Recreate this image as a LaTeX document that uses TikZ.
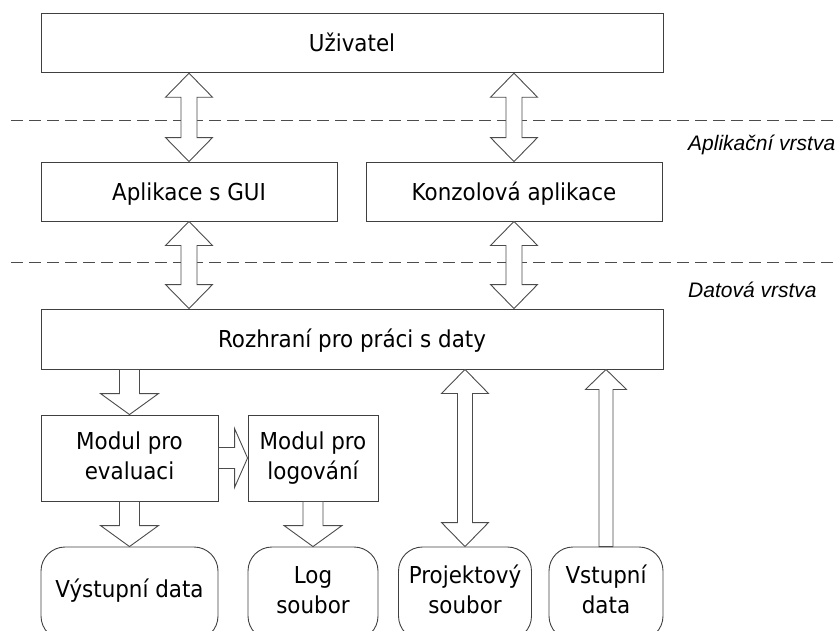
\documentclass[tikz,border=0pt]{standalone}
\usepackage{fontspec}
\setmainfont{DejaVu Sans}[FakeStretch=0.92]
\newfontfamily\layerfont{Liberation Sans}
\usetikzlibrary{calc}

% block arrows: #1 shaft half-width, #2 head half-width, #3 head length
\tikzset{
  blockdouble/.style n args={3}{to path={
    -- ($(\tikztostart)!#3!(\tikztotarget)!#2!90:(\tikztotarget)$)
    -- ($(\tikztostart)!#3!(\tikztotarget)!#1!90:(\tikztotarget)$)
    -- ($(\tikztotarget)!#3!(\tikztostart)!#1!-90:(\tikztostart)$)
    -- ($(\tikztotarget)!#3!(\tikztostart)!#2!-90:(\tikztostart)$)
    -- (\tikztotarget)
    -- ($(\tikztotarget)!#3!(\tikztostart)!#2!90:(\tikztostart)$)
    -- ($(\tikztotarget)!#3!(\tikztostart)!#1!90:(\tikztostart)$)
    -- ($(\tikztostart)!#3!(\tikztotarget)!#1!-90:(\tikztotarget)$)
    -- ($(\tikztostart)!#3!(\tikztotarget)!#2!-90:(\tikztotarget)$)
    -- cycle}},
  blocksingle/.style n args={3}{to path={
    -- ($(\tikztostart)!#1!90:(\tikztotarget)$)
    -- ($(\tikztotarget)!#3!(\tikztostart)!#1!-90:(\tikztostart)$)
    -- ($(\tikztotarget)!#3!(\tikztostart)!#2!-90:(\tikztostart)$)
    -- (\tikztotarget)
    -- ($(\tikztotarget)!#3!(\tikztostart)!#2!90:(\tikztostart)$)
    -- ($(\tikztotarget)!#3!(\tikztostart)!#1!90:(\tikztostart)$)
    -- ($(\tikztostart)!#1!-90:(\tikztotarget)$)
    -- cycle}},
  arrowline/.style={draw=black!70, fill=white, line width=0.9pt, line join=miter},
  layerline/.style={draw=black!70, line width=0.9pt, dash pattern=on 12pt off 6pt},
  box/.style={draw=black!75, line width=0.9pt, inner sep=0pt, align=center,
    font=\fontsize{23.3}{30}\selectfont, text height=17pt, text depth=0pt},
  twoline/.style={text height=47pt, text depth=5pt},
  store/.style={box, rounded corners=24pt},
  layerlabel/.style={font=\layerfont\itshape\fontsize{21}{25}\selectfont, anchor=base west, inner sep=0pt}
}

\begin{document}
\begin{tikzpicture}[x=1pt, y=-1pt]
  \useasboundingbox (0,0) rectangle (838,630);
  \clip (0,0) rectangle (838,630);

  % layer boundaries
  \coordinate (d1a) at (11,120);
  \coordinate (d1b) at (838,120);
  \coordinate (d2a) at (11,262);
  \coordinate (d2b) at (838,262);
  \draw[layerline] (d1a) -- (d1b);
  \draw[layerline] (d2a) -- (d2b);
  \node[layerlabel] (lapp) at (688,150) {Aplikační vrstva};
  \node[layerlabel] (ldata) at (688,297) {Datová vrstva};

  % boxes
  \node[box, minimum width=622pt, minimum height=59.5pt] (uz) at (352,43) {Uživatel};
  \node[box, minimum width=296pt, minimum height=59pt] (gui) at (189,191.5) {Aplikace s GUI};
  \node[box, minimum width=296pt, minimum height=59pt] (kon) at (514,191.5) {Konzolová aplikace};
  \node[box, minimum width=622pt, minimum height=60pt] (roz) at (352,339) {Rozhraní pro práci s daty};
  \node[box, twoline, minimum width=177pt, minimum height=86pt] (eval) at (129.5,458) {Modul pro\\evaluaci};
  \node[box, twoline, minimum width=130pt, minimum height=86pt] (logm) at (313,458) {Modul pro\\logování};

  % data stores
  \node[store, text depth=9pt, minimum width=177pt, minimum height=93pt] (out) at (129.5,593.5) {Výstupní data};
  \node[store, twoline, text depth=7pt, minimum width=130pt, minimum height=93pt] (logf) at (313,593.5) {Log\\soubor};
  \node[store, twoline, text depth=7pt, minimum width=133pt, minimum height=93pt] (proj) at (465,593.5) {Projektový\\soubor};
  \node[store, twoline, text depth=7pt, minimum width=114pt, minimum height=93pt] (inp) at (606,593.5) {Vstupní\\data};

  % connectors
  \draw[arrowline] (uz.south -| gui.north) to[blockdouble={8pt}{23.5pt}{24pt}] (gui.north);
  \draw[arrowline] (uz.south -| kon.north) to[blockdouble={8pt}{23.5pt}{24pt}] (kon.north);
  \draw[arrowline] (gui.south) to[blockdouble={8pt}{23.5pt}{24pt}] (roz.north -| gui.south);
  \draw[arrowline] (kon.south) to[blockdouble={8pt}{23.5pt}{24pt}] (roz.north -| kon.south);
  \draw[arrowline] (roz.south -| eval.north) to[blocksingle={10pt}{29pt}{21pt}] (eval.north);
  \draw[arrowline] (eval.east) to[blocksingle={10.5pt}{29.5pt}{13pt}] (logm.west);
  \draw[arrowline] (eval.south) to[blocksingle={10pt}{29pt}{21pt}] (out.north);
  \draw[arrowline] (logm.south) to[blocksingle={10pt}{29pt}{21pt}] (logf.north);
  \draw[arrowline] (roz.south -| proj.north) to[blockdouble={7.5pt}{23.5pt}{24pt}] (proj.north);
  \draw[arrowline] (inp.north) to[blocksingle={7pt}{20.5pt}{20pt}] (roz.south -| inp.north);
\end{tikzpicture}
\end{document}
